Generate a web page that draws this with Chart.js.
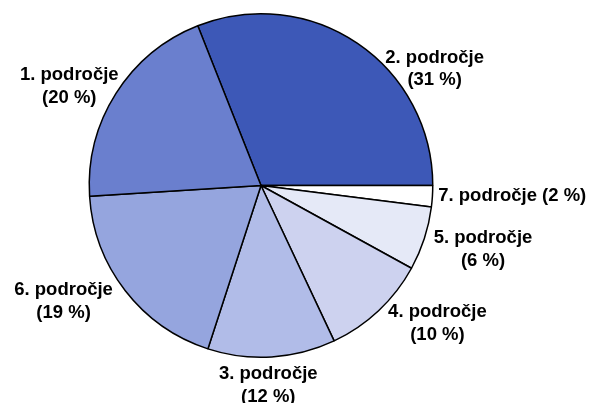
<!DOCTYPE html>
<html>
<head>
<meta charset="utf-8">
<script src="https://cdn.jsdelivr.net/npm/chart.js@4.4.1/dist/chart.umd.min.js"></script>
<style>
  html, body { margin: 0; padding: 0; background: #ffffff; }
  #wrap { width: 590px; height: 403px; }
</style>
</head>
<body>
<div id="wrap"><canvas id="pieChart" width="590" height="403"></canvas></div>
<script>
// slices in clockwise order, starting from the "2. področje" wedge
const areas = ['2. področje', '7. področje', '5. področje', '4. področje', '3. področje', '6. področje', '1. področje'];
const shares = [31, 2, 6, 10, 12, 19, 20];
const sliceColors = ['#3D58B7', '#FFFFFF', '#E5E9F7', '#CDD2EF', '#B1BCE8', '#95A5DE', '#6A7FCE'];

// label layout tweaks (pixels, relative to the computed outside anchor)
const oneLineLabel = [false, true, false, false, false, false, false];
const labelNudge = [[46, 49], [0, -1], [6, 2], [21, -8], [-7, 0], [-18, -7], [0, 8]];

// first wedge ends exactly at 3 o'clock
const startAngle = 90 - shares[0] * 3.6;

const outsideLabels = {
    id: 'outsideLabels',
    afterDatasetsDraw(chart) {
        const ctx = chart.ctx;
        const meta = chart.getDatasetMeta(0);
        ctx.save();
        ctx.font = 'bold 18.5px "Liberation Sans", Arial, sans-serif';
        ctx.fillStyle = '#000000';
        ctx.textBaseline = 'middle';
        ctx.textAlign = 'center';
        const lineH = 22.5;

        meta.data.forEach((arc, i) => {
            const lines = oneLineLabel[i]
                ? [areas[i] + ' (' + shares[i] + ' %)']
                : [areas[i], '(' + shares[i] + ' %)'];
            const w = Math.max(...lines.map(l => ctx.measureText(l).width));
            const h = lines.length * lineH;

            const mid = (arc.startAngle + arc.endAngle) / 2;
            const ux = Math.cos(mid);
            const uy = Math.sin(mid);
            const r = arc.outerRadius + 6;
            const px = arc.x + ux * r;
            const py = arc.y + uy * r;

            const cx = px + ux * w / 2 + labelNudge[i][0];
            const cy = py + uy * h / 2 + labelNudge[i][1];
            const top = cy - h / 2 + lineH / 2;
            lines.forEach((l, k) => {
                ctx.fillText(l, cx, top + k * lineH);
            });
        });
        ctx.restore();
    }
};

new Chart(document.getElementById('pieChart'), {
    type: 'pie',
    data: {
        labels: areas,
        datasets: [{
            data: shares,
            backgroundColor: sliceColors,
            borderColor: '#000000',
            borderWidth: 1.5
        }]
    },
    options: {
        responsive: false,
        animation: false,
        rotation: startAngle,
        layout: {
            padding: { left: 88, right: 156, top: 13, bottom: 45 }
        },
        plugins: {
            legend: { display: false },
            tooltip: { enabled: false }
        }
    },
    plugins: [outsideLabels]
});
</script>
</body>
</html>
